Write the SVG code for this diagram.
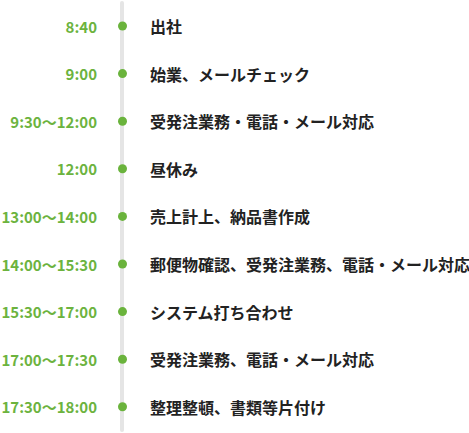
<svg xmlns="http://www.w3.org/2000/svg" width="469" height="433" viewBox="0 0 469 433">
<style>
.t{font-family:"Noto Sans CJK JP","Noto Sans",sans-serif;font-size:15px;font-weight:700;fill:#6cb33e;text-anchor:end;dominant-baseline:central}
.d{font-family:"Noto Sans CJK JP",sans-serif;font-size:16px;font-weight:700;fill:#222;dominant-baseline:central}
.dot{fill:#6ab33c}
</style>
<rect width="469" height="433" fill="#fff"/>
<g id="connectors">
<line x1="122" y1="3" x2="122" y2="430" stroke="#e5e5e5" stroke-width="4" stroke-linecap="round"/>
</g>
<g id="n1"><text class="t" x="97" y="26">8:40</text><circle class="dot" cx="122.5" cy="26" r="4.5"/><text class="d" x="150" y="26">出社</text></g>
<g id="n2"><text class="t" x="97" y="73.6">9:00</text><circle class="dot" cx="122.5" cy="73.6" r="4.5"/><text class="d" x="150" y="73.6">始業、メールチェック</text></g>
<g id="n3"><text class="t" x="97" y="121.2">9:30〜12:00</text><circle class="dot" cx="122.5" cy="121.2" r="4.5"/><text class="d" x="150" y="121.2">受発注業務・電話・メール対応</text></g>
<g id="n4"><text class="t" x="97" y="168.8">12:00</text><circle class="dot" cx="122.5" cy="168.8" r="4.5"/><text class="d" x="150" y="168.8">昼休み</text></g>
<g id="n5"><text class="t" x="97" y="216.4">13:00〜14:00</text><circle class="dot" cx="122.5" cy="216.4" r="4.5"/><text class="d" x="150" y="216.4">売上計上、納品書作成</text></g>
<g id="n6"><text class="t" x="97" y="264">14:00〜15:30</text><circle class="dot" cx="122.5" cy="264" r="4.5"/><text class="d" x="150" y="264">郵便物確認、受発注業務、電話・メール対応</text></g>
<g id="n7"><text class="t" x="97" y="311.6">15:30〜17:00</text><circle class="dot" cx="122.5" cy="311.6" r="4.5"/><text class="d" x="150" y="311.6">システム打ち合わせ</text></g>
<g id="n8"><text class="t" x="97" y="359.2">17:00〜17:30</text><circle class="dot" cx="122.5" cy="359.2" r="4.5"/><text class="d" x="150" y="359.2">受発注業務、電話・メール対応</text></g>
<g id="n9"><text class="t" x="97" y="406.8">17:30〜18:00</text><circle class="dot" cx="122.5" cy="406.8" r="4.5"/><text class="d" x="150" y="406.8">整理整頓、書類等片付け</text></g>
</svg>
